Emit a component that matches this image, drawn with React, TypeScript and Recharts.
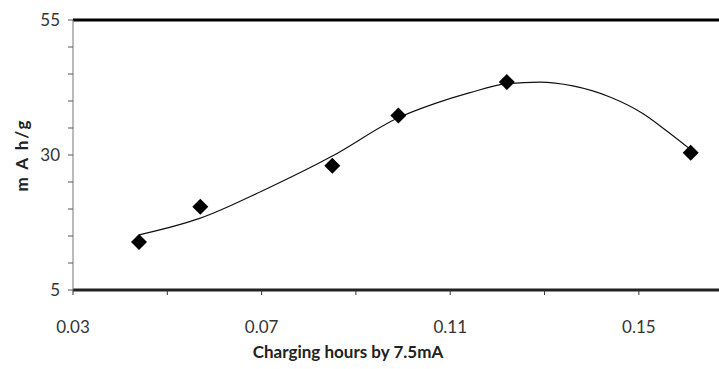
import React from 'react';
import { ComposedChart, Line, Scatter, XAxis, YAxis, ReferenceLine } from 'recharts';

// measured points
const chargeHours = [0.044, 0.057, 0.085, 0.099, 0.122, 0.161];
const capacity = [13.9, 20.4, 28.0, 37.3, 43.5, 30.4];

// trend line
const trendHours = [0.044, 0.057, 0.07, 0.085, 0.099, 0.107, 0.114, 0.122, 0.129, 0.136, 0.144, 0.151, 0.156, 0.161];
const trendCapacity = [15.2, 18.3, 23.3, 29.8, 36.9, 39.6, 41.5, 43.2, 43.5, 42.8, 40.7, 37.6, 34.4, 31.0];

const xTicks = [0.03, 0.05, 0.07, 0.09, 0.11, 0.13, 0.15];
const xLabelTicks = [0.03, 0.07, 0.11, 0.15];
const yTicks = [5, 10, 15, 20, 25, 30, 35, 40, 45, 50, 55];
const yLabelTicks = [5, 30, 55];

const points = chargeHours.map((x, i) => ({ x, y: capacity[i] }));
const trend = trendHours.map((x, i) => ({ x, y: trendCapacity[i] }));

const FONT = 'Lato, "Open Sans", sans-serif';

const Diamond = (props: any) => {
  const { cx, cy } = props;
  const r = 8;
  return <polygon points={`${cx},${cy - r} ${cx + r},${cy} ${cx},${cy + r} ${cx - r},${cy}`} fill="#000" />;
};

const XTick = ({ x, y, payload }: any) => {
  if (!xLabelTicks.includes(payload.value)) return null;
  return (
    <text x={x} y={y + 36} textAnchor="middle" fontSize={17} fill="#333" fontFamily={FONT}>
      {payload.value.toFixed(2)}
    </text>
  );
};

const YTick = ({ x, y, payload }: any) => {
  if (!yLabelTicks.includes(payload.value)) return null;
  return (
    <text x={x - 6} y={y + 6} textAnchor="end" fontSize={17} fill="#333" fontFamily={FONT}>
      {payload.value}
    </text>
  );
};

const YLabel = ({ viewBox }: any) => {
  const cx = 21;
  const cy = viewBox.y + viewBox.height / 2;
  return (
    <text
      x={cx}
      y={cy}
      transform={`rotate(-90 ${cx} ${cy})`}
      textAnchor="middle"
      dominantBaseline="central"
      fontSize={17}
      fontWeight="bold"
      letterSpacing={2}
      fill="#222"
      fontFamily={FONT}
    >
      m A h/g
    </text>
  );
};

export default function App() {
  return (
    <div style={{ position: 'absolute', left: 0, top: 0, width: 719, height: 369, background: '#fff', overflow: 'hidden' }}>
      <ComposedChart width={719} height={369} margin={{ top: 20, right: 0, bottom: 0, left: 0 }}>
        <XAxis
          type="number"
          dataKey="x"
          domain={[0.03, 0.167]}
          ticks={xTicks}
          allowDataOverflow
          height={79}
          tick={<XTick />}
          tickSize={5}
          tickLine={{ stroke: '#333' }}
          axisLine={{ stroke: '#222', strokeWidth: 3 }}
          label={{ value: 'Charging hours by 7.5mA', position: 'insideBottom', offset: 11, fontSize: 17, fontWeight: 'bold', fill: '#222', fontFamily: FONT, dx: -48 }}
        />
        <YAxis
          type="number"
          domain={[5, 55]}
          ticks={yTicks}
          width={73}
          tick={<YTick />}
          tickSize={5}
          tickLine={{ stroke: '#555' }}
          axisLine={{ stroke: '#777', strokeWidth: 1 }}
          label={{ content: YLabel }}
        />
        <ReferenceLine y={55} stroke="#000" strokeWidth={3} />
        <Line data={trend} dataKey="y" type="monotone" stroke="#111" strokeWidth={1.2} dot={false} isAnimationActive={false} />
        <Scatter data={points} dataKey="y" shape={<Diamond />} isAnimationActive={false} />
      </ComposedChart>
    </div>
  );
}
